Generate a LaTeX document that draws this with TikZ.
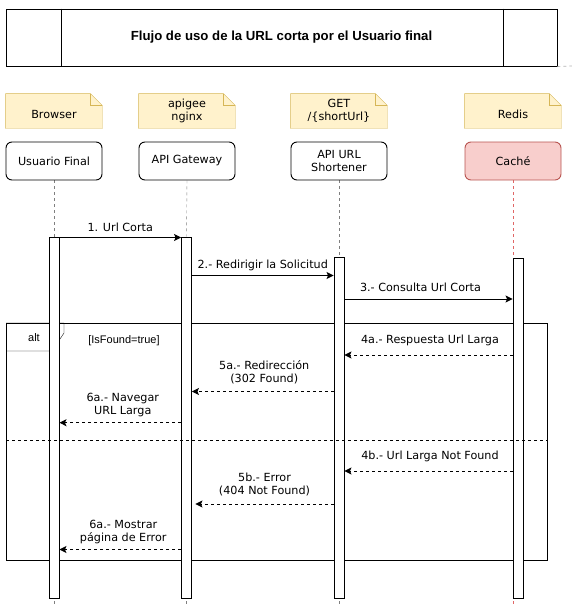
\documentclass[tikz,border=0pt]{standalone}
\usepackage{fontspec}
\setmainfont{DejaVu Sans}
\newfontfamily\arialf{Liberation Sans}
\usetikzlibrary{arrows.meta,backgrounds}
\definecolor{notefill}{HTML}{FFF2CC}
\definecolor{notedraw}{HTML}{D6B656}
\definecolor{cachefill}{HTML}{F8CECC}
\definecolor{cachedraw}{HTML}{B85450}
\definecolor{lifegray}{HTML}{7F7F7F}
\definecolor{lifered}{HTML}{E06666}
\tikzset{
  basefont/.style={font=\fontsize{11.2}{13}\selectfont},
  notebox/.style={minimum width=96pt, minimum height=34pt, inner sep=0pt, align=center},
  partbox/.style={draw=black, fill=white, rounded corners=6pt, minimum width=96pt, minimum height=38pt, inner sep=0pt, align=center},
  actbar/.style={draw=black, fill=white, minimum width=10pt, inner sep=0pt},
  lifeline/.style={draw=lifegray, dash pattern=on 3pt off 3pt},
  lifelinered/.style={draw=lifered, dash pattern=on 3pt off 3pt},
  msgline/.style={draw=black, -{Stealth[length=7pt,width=7pt,inset=1.5pt]}},
  retline/.style={msgline, dash pattern=on 3pt off 3pt},
  lbl/.style={inner sep=0pt, align=center},
  notestroke/.style={draw=notedraw, fill=notefill},
  arialtext/.style={font=\arialf\fontsize{11}{13}\selectfont},
}
\newcommand\drawnote[1]{%
  \draw[notestroke] (#1.north west) -- ([xshift=-12pt]#1.north east) -- ([yshift=-12pt]#1.north east) -- (#1.south east) -- (#1.south west) -- cycle;
  \draw[draw=notedraw] ([xshift=-12pt]#1.north east) -- ([xshift=-12pt,yshift=-12pt]#1.north east) -- ([yshift=-12pt]#1.north east);}
\begin{document}
\begin{tikzpicture}[x=1pt,y=-1pt,line width=0.9pt,basefont]
\useasboundingbox (0,0) rectangle (572,608);
% title
\node[draw, minimum width=551pt, minimum height=57pt, inner sep=0pt, font=\arialf\bfseries\fontsize{13.2}{15}\selectfont] (title) at (281.5,37.5) {Flujo de uso de la URL corta por el Usuario final};
\draw ([xshift=56pt]title.north west) -- ([xshift=56pt]title.south west);
\draw ([xshift=-54pt]title.north east) -- ([xshift=-54pt]title.south east);
\coordinate (rimend) at (572,66);
\draw[draw=black!30, line width=0.7pt, dash pattern=on 3pt off 3pt] (title.south east) -- (rimend);
% notes
\node[notebox] (n1) at (54,111) {};
\node[notebox] (n2) at (187,111) {apigee\\nginx};
\node[notebox] (n3) at (339,111) {GET\\/\{shortUrl\}};
\node[notebox] (n4) at (513,111) {};
\node[lbl] (n1t) at (54,114.5) {Browser};
\node[lbl] (n4t) at (513,114.5) {Redis};
% participants
\node[partbox] (u) at (54,161) {Usuario Final};
\node[partbox] (g) at (187,161) {API Gateway};
\node[partbox] (s) at (339,161) {API URL\\Shortener};
\node[partbox, draw=cachedraw, fill=cachefill] (c) at (513,161) {Caché};
% activation bars
\node[actbar, minimum height=361pt] (ua) at (54,417.5) {};
\node[actbar, minimum height=361pt] (ga) at (186.5,417.5) {};
\node[actbar, minimum height=341pt] (sa) at (339,427.5) {};
\node[actbar, minimum height=340pt] (ca) at (518,428) {};
% end coordinates
\coordinate (ue) at (54,606);
\coordinate (ge) at (186.5,606);
\coordinate (se) at (339,606);
\coordinate (ce) at (513,606);
\begin{scope}[on background layer]
  \drawnote{n1}\drawnote{n2}\drawnote{n3}\drawnote{n4}
  \node[draw, minimum width=541pt, minimum height=237pt, inner sep=0pt, anchor=north west] (altf) at (6,323) {};
  \draw (altf.north west) -- ++(58,0) -- ++(0,10) -- ++(-12,18) -- ++(-46,0);
  \draw[lifeline] (u.south) -- (ua.north);
  \draw[lifeline] (g.south) -- (ga.north);
  \draw[lifeline] (s.south) -- (sa.north);
  \draw[lifelinered] (c.south) -- (c.south |- ca.north);
  \draw[lifeline, dash phase=3pt] (ua.south) -- (ue);
  \draw[lifeline, dash phase=3pt] (ga.south) -- (ge);
  \draw[lifeline, dash phase=3pt] (sa.south) -- (se);
  \draw[lifelinered, dash phase=3pt] (c.south |- ca.south) -- (ce);
\end{scope}
\node[arialtext] (altlbl) at (34,337.5) {alt};
\node[arialtext] (guard) at (124,341) {[IsFound=true]};
% rows
\coordinate (r1) at (0,237.5);
\coordinate (r2) at (0,275.5);
\coordinate (r3) at (0,299);
\coordinate (r4a) at (0,355);
\coordinate (r5a) at (0,391.5);
\coordinate (r6a) at (0,422.7);
\coordinate (sep) at (0,440.5);
\coordinate (r4b) at (0,471);
\coordinate (r5b) at (0,504);
\coordinate (r6b) at (0,549.5);
% messages
\draw[msgline] (ua.east |- r1) -- node[lbl, yshift=9.8pt] (l1) {1. Url Corta} (ga.west |- r1);
\draw[msgline] (ga.east |- r2) -- node[lbl, yshift=9.8pt] (l2) {2.- Redirigir la Solicitud} (sa.west |- r2);
\draw[msgline] (sa.east |- r3) -- node[lbl, yshift=11.3pt, xshift=-8pt] (l3) {3.- Consulta Url Corta} (ca.west |- r3);
\draw[retline] (ca.west |- r4a) -- node[lbl, yshift=15pt, xshift=1.5pt] (l4a) {4a.- Respuesta Url Larga} (sa.east |- r4a);
\draw[retline] (sa.west |- r5a) -- node[lbl, yshift=19pt, xshift=1.5pt] (l5a) {5a.- Redirección\\(302 Found)} (ga.east |- r5a);
\draw[retline] (ga.west |- r6a) -- node[lbl, yshift=17.7pt, xshift=2.5pt] (l6a) {6a.- Navegar\\URL Larga} (ua.east |- r6a);
\draw[dash pattern=on 3pt off 3pt] (altf.west |- sep) -- (altf.east |- sep);
\draw[retline] (ca.west |- r4b) -- node[lbl, yshift=14.3pt, xshift=1.5pt] (l4b) {4b.- Url Larga Not Found} (sa.east |- r4b);
\draw[retline] (sa.west |- r5b) -- node[lbl, yshift=19.5pt] (l5b) {5b.- Error\\(404 Not Found)} ([xshift=3.5pt]ga.east |- r5b);
\draw[retline] (ga.west |- r6b) -- node[lbl, yshift=17pt, xshift=3pt] (l6b) {6a.- Mostrar\\página de Error} (ua.east |- r6b);
\end{tikzpicture}
\end{document}
